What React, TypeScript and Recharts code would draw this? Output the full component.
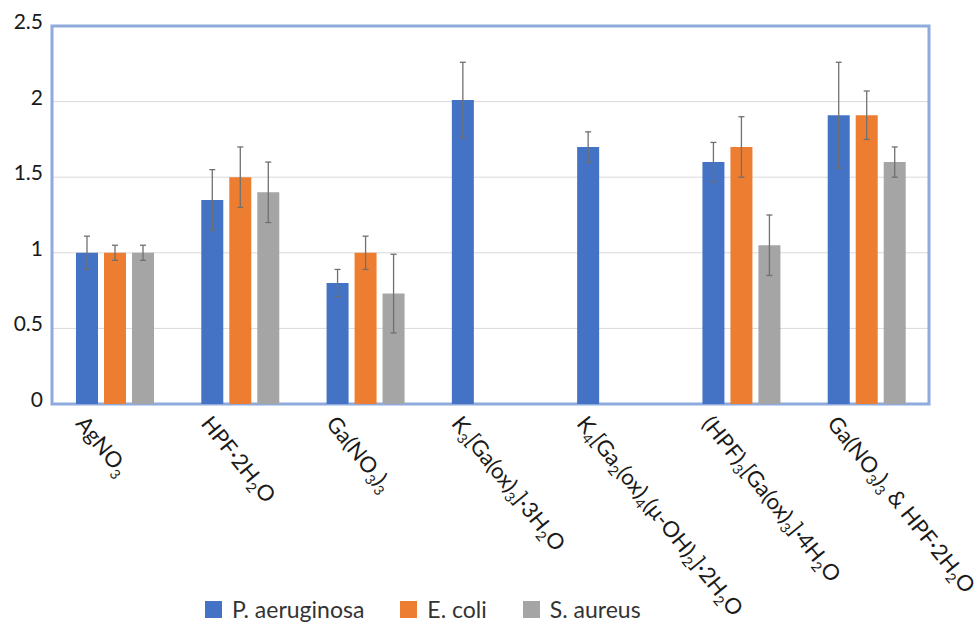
import React from "react";
import {
  BarChart,
  Bar,
  XAxis,
  YAxis,
  CartesianGrid,
  ErrorBar,
  Legend,
  ReferenceArea,
} from "recharts";

// "_n" marks a subscript digit
const compounds = [
  "AgNO_3",
  "HPF·2H_2O",
  "Ga(NO_3)_3",
  "K_3[Ga(ox)_3]·3H_2O",
  "K_4[Ga_2(ox)_4(μ-OH)_2]·2H_2O",
  "(HPF)_3[Ga(ox)_3]·4H_2O",
  "Ga(NO_3)_3 & HPF·2H_2O",
];

const seriesNames = ["P. aeruginosa", "E. coli", "S. aureus"];

const paeruginosa = [1.0, 1.35, 0.8, 2.01, 1.7, 1.6, 1.91];
const ecoli = [1.0, 1.5, 1.0, null, null, 1.7, 1.91];
const saureus = [1.0, 1.4, 0.73, null, null, 1.05, 1.6];

const paeruginosaErr = [0.11, 0.2, 0.09, 0.25, 0.1, 0.13, 0.35];
const ecoliErr = [0.05, 0.2, 0.11, null, null, 0.2, 0.16];
const saureusErr = [0.05, 0.2, 0.26, null, null, 0.2, 0.1];

const yTicks = [0, 0.5, 1, 1.5, 2, 2.5];

const data = compounds.map((name, i) => ({
  name,
  pa: paeruginosa[i],
  ec: ecoli[i],
  sa: saureus[i],
  paErr: paeruginosaErr[i],
  ecErr: ecoliErr[i] ?? undefined,
  saErr: saureusErr[i] ?? undefined,
}));

const FONT = "Lato, 'Open Sans', sans-serif";

const CompoundTick = ({ x, y, payload }: any) => {
  const parts = String(payload.value).split(/_(\d)/);
  return (
    <g transform={`translate(${x - 40},${y + 20}) rotate(51)`}>
      <text x={0} y={0} textAnchor="start" fontSize={22} fill="#1a1a1a" fontFamily={FONT}>
        {parts.map((p, i) =>
          i % 2 ? (
            <tspan key={i} fontSize={14} dy={5}>
              {p}
            </tspan>
          ) : (
            <tspan key={i} dy={i ? -5 : 0}>
              {p}
            </tspan>
          )
        )}
      </text>
    </g>
  );
};

const ValueTick = ({ x, y, payload }: any) => (
  <text x={x} y={y} dy={3} textAnchor="end" fontSize={21} fill="#1a1a1a" fontFamily={FONT}>
    {payload.value}
  </text>
);

const LegendRow = ({ payload }: any) => {
  const items = [...(payload || [])].sort(
    (a: any, b: any) => seriesNames.indexOf(a.value) - seriesNames.indexOf(b.value)
  );
  return (
    <div
      style={{
        display: "flex",
        alignItems: "center",
        height: 24,
        lineHeight: "20px",
        paddingLeft: 205,
        fontFamily: FONT,
        fontSize: 23,
        color: "#333",
      }}
    >
      {items.map((item: any) => (
        <div key={item.value} style={{ display: "flex", alignItems: "center", marginRight: 36 }}>
          <span style={{ width: 17, height: 17, background: item.color, marginRight: 10 }} />
          <span>{item.value}</span>
        </div>
      ))}
    </div>
  );
};

const App = () => {
  return (
    <div style={{ position: "absolute", left: 0, top: 0, background: "#fff" }}>
      <BarChart
        width={974}
        height={623}
        data={data}
        barSize={22}
        barGap={6}
        margin={{ top: 26, right: 45, left: 0, bottom: 2 }}
      >
        <CartesianGrid vertical={false} stroke="#d9d9d9" />
        <XAxis
          dataKey="name"
          axisLine={false}
          tickLine={false}
          tickSize={0}
          tickMargin={0}
          interval={0}
          height={193}
          tick={<CompoundTick />}
        />
        <YAxis
          type="number"
          domain={[0, 2.5]}
          ticks={yTicks}
          axisLine={false}
          tickLine={false}
          tickSize={0}
          tickMargin={9}
          width={52}
          tick={<ValueTick />}
        />
        <Bar dataKey="pa" name={seriesNames[0]} fill="#4472c4" isAnimationActive={false}>
          <ErrorBar dataKey="paErr" width={3} stroke="#707070" strokeWidth={1.3} />
        </Bar>
        <Bar dataKey="ec" name={seriesNames[1]} fill="#ed7d31" isAnimationActive={false}>
          <ErrorBar dataKey="ecErr" width={3} stroke="#707070" strokeWidth={1.3} />
        </Bar>
        <Bar dataKey="sa" name={seriesNames[2]} fill="#a5a5a5" isAnimationActive={false}>
          <ErrorBar dataKey="saErr" width={3} stroke="#707070" strokeWidth={1.3} />
        </Bar>
        <ReferenceArea
          y1={0}
          y2={2.5}
          fill="none"
          stroke="#8faadc"
          strokeWidth={3}
          ifOverflow="visible"
        />
        <Legend verticalAlign="bottom" content={<LegendRow />} wrapperStyle={{ height: 24 }} />
      </BarChart>
    </div>
  );
};

export default App;
